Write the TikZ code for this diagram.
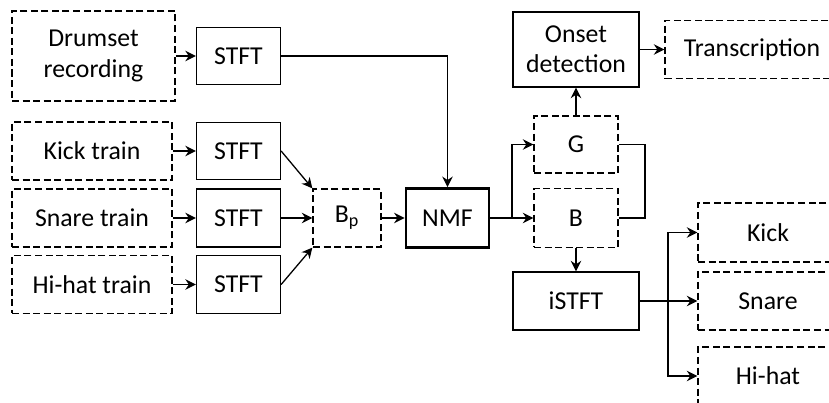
\documentclass[tikz,border=0pt]{standalone}
\usepackage{fontspec}
\setmainfont{Carlito}
\usetikzlibrary{arrows.meta}

\begin{document}
\begin{tikzpicture}[
            x = 0.03cm, y = -0.03cm,
            every node/.style={font=\fontsize{22}{26}\selectfont, align=center, inner sep=0pt},
            box/.style={draw, line width = 1.1pt, minimum width=#1},
            box/.default = 84*0.03cm,
            dbox/.style={box=#1, dash pattern=on 6pt off 3pt},
            dbox/.default = 160*0.03cm,
            line/.style={line width = 1.1pt},
            arr/.style={line, -{Stealth[length=9pt, width=9pt, inset=3pt]}},
            ]
        \useasboundingbox (0,0) rectangle (829,403);
        \clip (0,0) rectangle (829,403);

        % inputs
        \node[dbox=163*0.03cm, minimum height=90*0.03cm] (drum) at (93.5,56) {Drumset\\recording};
        \node[dbox, minimum height=58*0.03cm] (kickt) at (92,151) {Kick train};
        \node[dbox, minimum height=58*0.03cm] (snaret) at (92,218) {Snare train};
        \node[dbox, minimum height=58*0.03cm] (hihatt) at (92,284.5) {Hi-hat train};

        % spectrograms
        \node[box, minimum height=57*0.03cm] (stft0) at (238.5,56) {STFT};
        \node[box, minimum height=57*0.03cm] (stft1) at (238.5,151) {STFT};
        \node[box, minimum height=58*0.03cm] (stft2) at (238.5,218) {STFT};
        \node[box, minimum height=58*0.03cm] (stft3) at (238.5,284.5) {STFT};
        \node[dbox=68*0.03cm, minimum height=58*0.03cm] (bp) at (347,218) {B\textsubscript{p}};
        \node[box=83*0.03cm, minimum height=59*0.03cm, line width=2.4pt] (nmf) at (447.5,218) {NMF};

        % factors and outputs
        \node[dbox=84*0.03cm, minimum height=57*0.03cm] (g) at (576,144.5) {G};
        \node[dbox=84*0.03cm, minimum height=59*0.03cm] (b) at (576,218) {B};
        \node[box=126*0.03cm, minimum height=75*0.03cm] (onset) at (576,49.5) {Onset\\detection};
        \node[dbox=174*0.03cm, minimum height=58*0.03cm] (trans) at (752,49.5) {Transcription};
        \node[box=126*0.03cm, minimum height=58*0.03cm] (istft) at (576,301) {iSTFT};
        \node[dbox=140*0.03cm, minimum height=59*0.03cm] (kick) at (768,232.5) {Kick};
        \node[dbox=140*0.03cm, minimum height=58*0.03cm] (snare) at (768,301) {Snare};
        \node[dbox=140*0.03cm, minimum height=58*0.03cm] (hihat) at (768,376) {Hi-hat};

        \coordinate (split) at (512,218);
        \coordinate (gb) at (645,0);
        \coordinate (fan) at (668,301);

        \draw[arr] (drum) -- (stft0);
        \draw[arr] (kickt) -- (stft1);
        \draw[arr] (snaret) -- (stft2);
        \draw[arr] (hihatt) -- (stft3);
        \draw[arr] (stft0.east) -| (nmf.north);
        \draw[arr] (stft1.east) -- (bp.north west);
        \draw[arr] (stft2) -- (bp);
        \draw[arr] (stft3.east) -- (bp.south west);
        \draw[arr] (bp) -- (nmf);
        \draw[arr] (nmf) -- (b);
        \draw[arr] (split) |- (g.west);
        \draw[line] (g.east) -- (g.east -| gb) -- (b.east -| gb) -- (b.east);
        \draw[arr] (g) -- (onset);
        \draw[arr] (onset) -- (trans);
        \draw[arr] (b) -- (istft);
        \draw[arr] (istft) -- (snare);
        \draw[arr] (fan) |- (kick.west);
        \draw[arr] (fan) |- (hihat.west);
    \end{tikzpicture}
\end{document}
